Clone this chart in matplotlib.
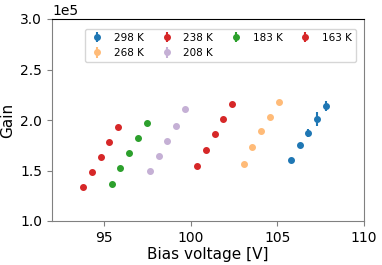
import matplotlib
matplotlib.use("Agg")
import matplotlib.pyplot as plt

# bias voltage [V] and gain [1e5] per temperature
labels = ["298 K", "268 K", "238 K", "208 K", "183 K", "163 K"]
colors = ["#1f77b4", "#ffbb78", "#d62728", "#c5b0d5", "#2ca02c", "#d62728"]

v298 = [105.77, 106.28, 106.78, 107.27, 107.79]
g298 = [1.60, 1.755, 1.87, 2.01, 2.14]
e298 = [0.015, 0.015, 0.04, 0.07, 0.05]

v268 = [103.06, 103.56, 104.07, 104.58, 105.08]
g268 = [1.567, 1.73, 1.888, 2.03, 2.18]

v238 = [100.37, 100.87, 101.38, 101.88, 102.38]
g238 = [1.54, 1.70, 1.86, 2.01, 2.16]

v208 = [97.67, 98.16, 98.66, 99.15, 99.67]
g208 = [1.495, 1.64, 1.79, 1.94, 2.11]

v183 = [95.45, 95.95, 96.45, 96.96, 97.46]
g183 = [1.37, 1.52, 1.673, 1.82, 1.973]

v163 = [93.8, 94.3, 94.8, 95.3, 95.8]
g163 = [1.34, 1.49, 1.634, 1.785, 1.93]

volts = [v298, v268, v238, v208, v183, v163]
gains = [g298, g268, g238, g208, g183, g163]
errs = [e298, [0.01] * 5, [0.01] * 5, [0.01] * 5, [0.01] * 5, [0.01] * 5]

fig = plt.figure(figsize=(3.82, 2.65), dpi=100)
ax = fig.add_axes([52 / 382, 1 - 221 / 265, 312 / 382, 202 / 265])

for v, g, e, c, lab in zip(volts, gains, errs, colors, labels):
    ax.errorbar(v, [x * 1e5 for x in g], yerr=[x * 1e5 for x in e],
                fmt="o", color=c, ms=4, elinewidth=1.5, label=lab)

ax.set_xlim(92, 110)
ax.set_ylim(1e5, 3e5)
ax.set_xticks([95, 100, 105, 110])
ax.set_yticks([1e5, 1.5e5, 2e5, 2.5e5, 3e5])
ax.ticklabel_format(axis="y", style="sci", scilimits=(0, 0))
ax.tick_params(labelsize=10, color="gray")
ax.yaxis.get_offset_text().set_fontsize(10)
for s in ["left", "bottom", "right"]:
    ax.spines[s].set_color("gray")
ax.spines["top"].set_color("black")

ax.set_xlabel("Bias voltage [V]", fontsize=11, labelpad=2)
ax.set_ylabel("Gain", fontsize=11)
ax.legend(ncol=4, fontsize=7.5, loc="upper right", bbox_to_anchor=(0.99, 0.975),
          handletextpad=0.8, columnspacing=1.4, borderpad=0.35, handlelength=1.6)

fig.savefig("out.png", dpi=100)
